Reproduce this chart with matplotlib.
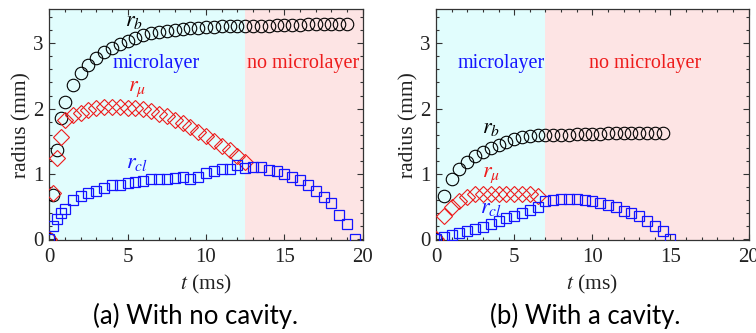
"""Bubble radius vs time, with and without a cavity (two panels)."""
import matplotlib
matplotlib.use("Agg")
import matplotlib.pyplot as plt
from matplotlib.ticker import MultipleLocator

plt.rcParams["font.family"] = ["Liberation Serif", "DejaVu Serif"]
plt.rcParams["mathtext.fontset"] = "stix"

# ---- (a) with no cavity ----
t_a_early = [0, 0.25, 0.5, 0.75]
t_a_b = t_a_early + [1 + 0.5 * i for i in range(37)]       # to 19.0
t_a_mu = t_a_early + [1 + 0.5 * i for i in range(24)]      # to 12.5
t_a_cl = t_a_early + [1 + 0.5 * i for i in range(38)]      # to 19.5

rb_a = [0, 0.68, 1.36, 1.86,
        2.10, 2.36, 2.54, 2.67, 2.78, 2.86, 2.93, 2.99, 3.04, 3.08,
        3.12, 3.15, 3.17, 3.19, 3.21, 3.22, 3.23, 3.24, 3.25, 3.25,
        3.26, 3.26, 3.26, 3.26,
        3.27, 3.27, 3.27, 3.28, 3.28, 3.28, 3.28, 3.29, 3.29, 3.29,
        3.30, 3.30, 3.30]
rmu_a = [0, 0.71, 1.24, 1.57,
         1.82, 1.90, 1.94, 1.98, 2.01, 2.02, 2.02, 2.02, 2.01, 2.01,
         1.99, 1.96, 1.92, 1.88, 1.83, 1.78, 1.72, 1.65, 1.58, 1.51,
         1.43, 1.36, 1.28, 1.19]
rcl_a = [0, 0.20, 0.31, 0.40,
         0.47, 0.60, 0.66, 0.71, 0.74, 0.78, 0.83, 0.83, 0.86, 0.88,
         0.89, 0.92, 0.93, 0.93, 0.94, 0.96, 0.92, 0.96, 1.02, 1.04,
         1.07, 1.07, 1.13, 1.09, 1.11, 1.11, 1.06, 1.04, 1.00, 0.96,
         0.91, 0.83, 0.74, 0.65, 0.55, 0.37, 0.23, 0.00]

# ---- (b) with a cavity ----
t_b_b = [0.5 * i for i in range(30)]    # 0 .. 14.5
t_b_mu = [0.5 * i for i in range(14)]   # 0 .. 6.5
t_b_cl = [0.5 * i for i in range(31)]   # 0 .. 15

rb_b = [0, 0.66, 0.92, 1.08, 1.19, 1.28, 1.34, 1.40, 1.45, 1.49,
        1.53, 1.56, 1.58, 1.59, 1.60,
        1.60, 1.60, 1.60, 1.61, 1.61, 1.61, 1.61, 1.62, 1.62, 1.62,
        1.62, 1.62, 1.63, 1.63, 1.63]
rmu_b = [0, 0.36, 0.50, 0.58, 0.65, 0.69, 0.70, 0.70, 0.70, 0.70,
         0.70, 0.70, 0.70, 0.67]
rcl_b = [0, 0.03, 0.066, 0.10, 0.13, 0.16, 0.19, 0.23, 0.285, 0.32,
         0.36, 0.41, 0.45, 0.50,
         0.59, 0.60, 0.61, 0.61, 0.61, 0.60, 0.585, 0.56, 0.525, 0.49,
         0.44, 0.40, 0.35, 0.285, 0.21, 0.12, 0.0]

boundary_a = 12.5
boundary_b = 7.0

CYAN = "#e1fdfd"
PINK = "#fde4e4"
FRAME = "#333333"
RED = "#ee1c1c"
BLUE = "#1414ff"


def draw_panel(ax, boundary, tb, rb, tmu, rmu, tcl, rcl, lab_pos, ml_x, nml_x):
    ax.axvspan(0, boundary, color=CYAN, lw=0, zorder=0)
    ax.axvspan(boundary, 20, color=PINK, lw=0, zorder=0)
    ax.plot(tb, rb, "o", ms=9, mfc="none", mec="black", mew=0.8, zorder=3)
    ax.plot(tmu, rmu, "D", ms=8.4, mfc="none", mec=RED, mew=0.8, zorder=3)
    ax.plot(tcl, rcl, "s", ms=7.2, mfc="none", mec=BLUE, mew=0.9, zorder=3)

    (xb, yb), (xm, ym), (xc, yc) = lab_pos
    ax.text(xb, yb, r"$r_b$", color="black", fontsize=16, ha="center", va="center")
    ax.text(xm, ym, r"$r_\mu$", color=RED, fontsize=16, ha="center", va="center")
    ax.text(xc, yc, r"$r_{cl}$", color=BLUE, fontsize=16, ha="center", va="center")
    ax.text(ml_x, 2.69, "microlayer", color=BLUE, fontsize=14.5,
            ha="center", va="center")
    ax.text(nml_x, 2.69, "no microlayer", color=RED, fontsize=14.5,
            ha="center", va="center")

    ax.set_xlim(0, 20)
    ax.set_ylim(-0.01, 3.52)
    ax.xaxis.set_major_locator(MultipleLocator(5))
    ax.xaxis.set_minor_locator(MultipleLocator(1))
    ax.yaxis.set_major_locator(MultipleLocator(1))
    ax.yaxis.set_minor_locator(MultipleLocator(0.2))
    ax.tick_params(which="both", direction="in", top=True, right=True,
                   color=FRAME, labelcolor="#222222", labelsize=15, width=0.8)
    ax.tick_params(which="major", length=4)
    ax.tick_params(axis="x", which="major", pad=6)
    ax.tick_params(axis="y", which="major", pad=4)
    ax.tick_params(which="minor", length=2.5)
    for s in ax.spines.values():
        s.set_color(FRAME)
        s.set_linewidth(0.9)
    ax.set_xlabel(r"$t$ (ms)", fontsize=15.5, labelpad=4, color="#222222")
    ax.set_ylabel("radius (mm)", fontsize=15.5, labelpad=1, color="#222222")


fig = plt.figure(figsize=(7.56, 3.33), dpi=100)
ax_a = fig.add_axes([0.0652, 0.2793, 0.4146, 0.6928])
ax_b = fig.add_axes([0.5767, 0.2793, 0.4136, 0.6928])

draw_panel(ax_a, boundary_a, t_a_b, rb_a, t_a_mu, rmu_a, t_a_cl, rcl_a,
           [(5.4, 3.33), (5.6, 2.29), (5.6, 1.16)], 6.85, 16.2)
draw_panel(ax_b, boundary_b, t_b_b, rb_b, t_b_mu, rmu_b, t_b_cl, rcl_b,
           [(3.5, 1.70), (3.5, 0.98), (3.5, 0.47)], 4.15, 13.4)

fig.text(0.259, 0.05, "(a) With no cavity.", fontsize=18.5, family="Lato",
         ha="center", va="center")
fig.text(0.774, 0.05, "(b) With a cavity.", fontsize=18.5, family="Lato",
         ha="center", va="center")

fig.savefig("out.png", dpi=100)
